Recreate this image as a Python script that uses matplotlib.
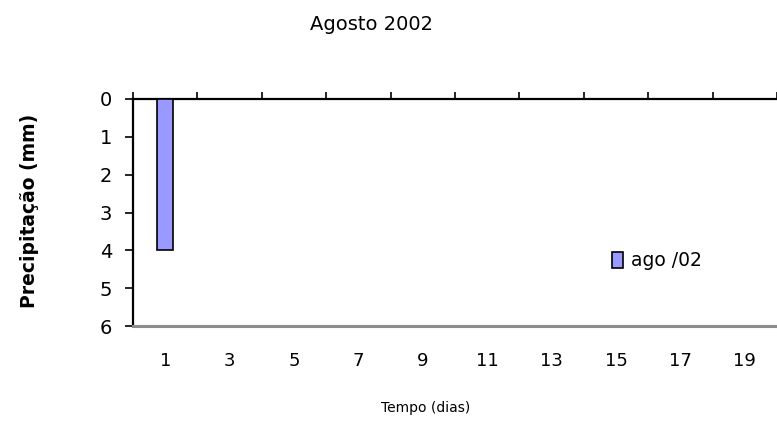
import matplotlib
matplotlib.use("Agg")
import matplotlib.pyplot as plt
import numpy as np

# dados (precipitação em mm, eixo invertido)
dias = ["1", "3", "5", "7", "9", "11", "13", "15", "17", "19"]
precipitacao = [4, 0, 0, 0, 0, 0, 0, 0, 0, 0]
serie = "ago /02"
titulo = "Agosto 2002"

plt.rcParams["font.family"] = ["DejaVu Sans"]

fig = plt.figure(figsize=(7.77, 4.28), dpi=100)
ax = fig.add_axes([133 / 777, 1 - 326 / 428, 1 - 133 / 777, (326 - 99) / 428])

x = np.arange(len(dias))
ax.bar(x, precipitacao, width=0.25, color="#9999ff", edgecolor="black",
       linewidth=1.2, label=serie, zorder=3)

ax.set_ylim(6, 0)
ax.set_xlim(-0.5, -0.5 + 644 / 65)
ax.set_yticks(range(0, 7))

ax.set_xticks(x)
ax.set_xticklabels(dias)
ax.set_xticks(np.arange(-0.5, len(dias), 1), minor=True)
ax.tick_params(axis="x", which="major", bottom=False, top=False,
               labelbottom=True, labelsize=13, pad=15)
ax.tick_params(axis="x", which="minor", bottom=False, top=True,
               direction="out", length=5, width=1.2)
ax.tick_params(axis="y", direction="out", length=6, width=1.2,
               labelsize=14, pad=9)

for lado in ["top", "left"]:
    ax.spines[lado].set_linewidth(1.6)
    ax.spines[lado].set_color("black")
ax.spines["bottom"].set_color("#8c8c8c")
ax.spines["bottom"].set_linewidth(2.2)
ax.spines["right"].set_visible(False)

fig.text(372 / 777, 1 - 25 / 428, titulo, ha="center", va="center", fontsize=14)
fig.text(30 / 777, 1 - 211 / 428, "Precipitação (mm)", rotation=90,
         ha="center", va="center", fontsize=13.5, fontweight="bold")
fig.text(426 / 777, 1 - 408 / 428, "Tempo (dias)", ha="center", va="center",
         fontsize=10)

fig.legend(loc="center left", bbox_to_anchor=(612 / 777, 1 - 261 / 428),
           frameon=False, fontsize=13.5, handlelength=0.6, handleheight=0.9,
           handletextpad=0.4, borderpad=0, borderaxespad=0)

fig.savefig("out.png", dpi=100)
